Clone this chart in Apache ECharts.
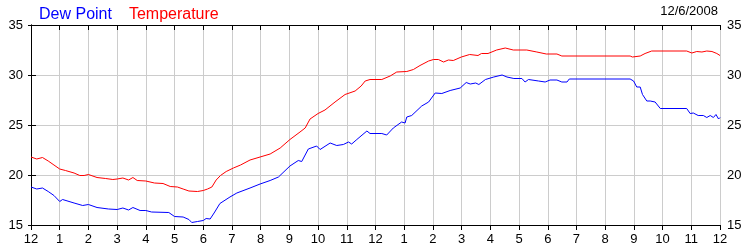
<!DOCTYPE html>
<html><head><meta charset="utf-8">
<script src="https://cdn.jsdelivr.net/npm/echarts@6/dist/echarts.min.js"></script>
<style>html,body{margin:0;padding:0;background:#fff}#c{width:750px;height:250px}</style>
</head><body><div id="c"></div>
<script>
const hourLabels = ['12','1','2','3','4','5','6','7','8','9','10','11','12','1','2','3','4','5','6','7','8','9','10','11','12'];
const yTicks = [15, 20, 25, 30, 35];
const dateLabel = '12/6/2008';
const seriesNames = ['Dew Point', 'Temperature'];

const tempHours = [0,0.2,0.4,0.6,0.8,1.0,1.2,1.5,1.7,1.85,2.0,2.3,2.6,2.85,3.0,3.2,3.4,3.55,3.7,4.0,4.3,4.6,4.85,5.1,5.3,5.5,5.8,6.0,6.15,6.3,6.45,6.6,6.8,7.05,7.3,7.63,7.98,8.33,8.68,9.02,9.37,9.55,9.72,10.0,10.24,10.59,10.94,11.29,11.5,11.64,11.81,12.22,12.51,12.74,13.09,13.32,13.55,13.85,14.02,14.19,14.37,14.54,14.71,14.99,15.28,15.57,15.69,15.92,16.22,16.52,16.8,17.27,17.62,17.95,18.32,18.49,20.87,20.95,21.22,21.39,21.62,22.84,23.02,23.19,23.37,23.54,23.72,23.89,24.0];
const tempValues = [21.8,21.6,21.75,21.4,21.0,20.6,20.45,20.2,19.95,19.95,20.05,19.75,19.65,19.55,19.6,19.7,19.5,19.75,19.45,19.4,19.2,19.15,18.85,18.8,18.6,18.4,18.35,18.45,18.6,18.8,19.5,19.95,20.35,20.7,21.0,21.5,21.8,22.1,22.7,23.55,24.3,24.7,25.6,26.15,26.5,27.3,28.05,28.4,28.9,29.4,29.55,29.55,29.9,30.3,30.35,30.55,30.95,31.4,31.55,31.55,31.3,31.5,31.45,31.8,32.05,31.95,32.15,32.15,32.5,32.7,32.5,32.5,32.3,32.1,32.1,31.9,31.9,31.8,31.9,32.15,32.4,32.4,32.2,32.35,32.3,32.4,32.35,32.15,31.95];

const dewHours = [0,0.2,0.4,0.6,0.8,1.0,1.1,1.5,1.8,2.0,2.3,2.7,3.0,3.2,3.4,3.55,3.8,4.0,4.2,4.8,5.0,5.3,5.5,5.6,5.8,6.0,6.1,6.24,6.4,6.58,6.93,7.17,7.63,7.98,8.33,8.62,9.02,9.31,9.43,9.66,9.95,10.07,10.42,10.65,10.88,11.06,11.17,11.35,11.7,11.81,12.22,12.27,12.39,12.62,12.91,13.03,13.09,13.26,13.61,13.85,14.08,14.31,14.6,14.95,15.16,15.3,15.49,15.6,15.83,16.12,16.41,16.58,16.82,17.1,17.21,17.33,17.68,17.91,18.08,18.32,18.49,18.67,18.75,20.87,20.99,21.1,21.22,21.3,21.45,21.57,21.63,21.74,21.92,22.84,22.96,23.07,23.24,23.42,23.54,23.66,23.77,23.86,23.95,24.0];
const dewValues = [18.8,18.6,18.7,18.35,17.95,17.35,17.55,17.2,16.95,17.05,16.75,16.6,16.55,16.7,16.5,16.75,16.45,16.45,16.3,16.25,15.85,15.8,15.55,15.25,15.35,15.45,15.65,15.6,16.3,17.15,17.8,18.2,18.7,19.1,19.45,19.8,20.9,21.45,21.35,22.6,22.9,22.55,23.2,22.95,23.05,23.3,23.1,23.55,24.4,24.15,24.15,24.3,24.0,24.7,25.3,25.2,25.8,25.95,26.9,27.3,28.2,28.15,28.45,28.7,29.25,29.1,29.2,29.05,29.55,29.8,30.0,29.8,29.65,29.65,29.3,29.55,29.4,29.3,29.5,29.5,29.3,29.3,29.6,29.6,29.4,28.8,28.8,28.05,27.4,27.4,27.55,27.3,26.65,26.65,26.15,26.2,25.95,25.95,25.75,25.95,25.75,26.05,25.6,25.75];

const zip = (xs, ys) => xs.map((x, i) => [x, ys[i]]);
const FONT = 'Liberation Sans, Arial, sans-serif';
const chart = echarts.init(document.getElementById('c'), null, {renderer: 'canvas'});
const axisLine = {show: true, lineStyle: {color: '#000', width: 1}};
const gridLine = {show: true, lineStyle: {color: '#cccccc', width: 1, type: 'solid'}};
const lbl = {color: '#000', fontSize: 13, fontFamily: FONT};
chart.setOption({
  animation: false,
  backgroundColor: '#fff',
  grid: {left: 31, right: 30, top: 25, bottom: 25, containLabel: false},
  legend: {
    left: 29, top: 2, icon: 'none', itemWidth: 0, itemHeight: 0, itemGap: 12,
    textStyle: {fontSize: 16, fontFamily: FONT},
    data: [
      {name: seriesNames[0], textStyle: {color: '#0000ff'}},
      {name: seriesNames[1], textStyle: {color: '#ff0000'}}
    ],
    selectedMode: false
  },
  graphic: [{
    type: 'text', right: 32, top: 5,
    style: {text: dateLabel, fill: '#000', font: '13px ' + FONT, textAlign: 'right'}
  }],
  xAxis: [{
    type: 'value', min: 0, max: 24, interval: 1, position: 'bottom',
    axisLine: axisLine,
    axisTick: {show: true, inside: false, length: 5, lineStyle: {color: '#000'}},
    axisLabel: Object.assign({margin: 8, formatter: v => hourLabels[Math.round(v)]}, lbl),
    splitLine: gridLine
  }, {
    type: 'value', min: 0, max: 24, interval: 1, position: 'top',
    axisLine: axisLine,
    axisTick: {show: true, inside: true, length: 5, lineStyle: {color: '#000'}},
    axisLabel: {show: false},
    splitLine: {show: false}
  }],
  yAxis: [{
    type: 'value', min: yTicks[0], max: yTicks[yTicks.length - 1], interval: 5, position: 'left',
    axisLine: axisLine,
    axisTick: {show: true, inside: false, length: 3, lineStyle: {color: '#000'}},
    axisLabel: Object.assign({margin: 8}, lbl),
    splitLine: gridLine
  }, {
    type: 'value', min: yTicks[0], max: yTicks[yTicks.length - 1], interval: 5, position: 'right',
    axisLine: axisLine,
    axisTick: {show: true, inside: false, length: 5, lineStyle: {color: '#000'}},
    axisLabel: Object.assign({margin: 7}, lbl),
    splitLine: {show: false}
  }],
  series: [{
    name: seriesNames[0], type: 'line', data: zip(dewHours, dewValues),
    showSymbol: false, symbol: 'none', lineStyle: {color: '#0000ff', width: 1}, itemStyle: {color: '#0000ff'}, z: 3
  }, {
    name: seriesNames[1], type: 'line', data: zip(tempHours, tempValues),
    showSymbol: false, symbol: 'none', lineStyle: {color: '#ff0000', width: 1}, itemStyle: {color: '#ff0000'}, z: 3
  }]
});
</script></body></html>
